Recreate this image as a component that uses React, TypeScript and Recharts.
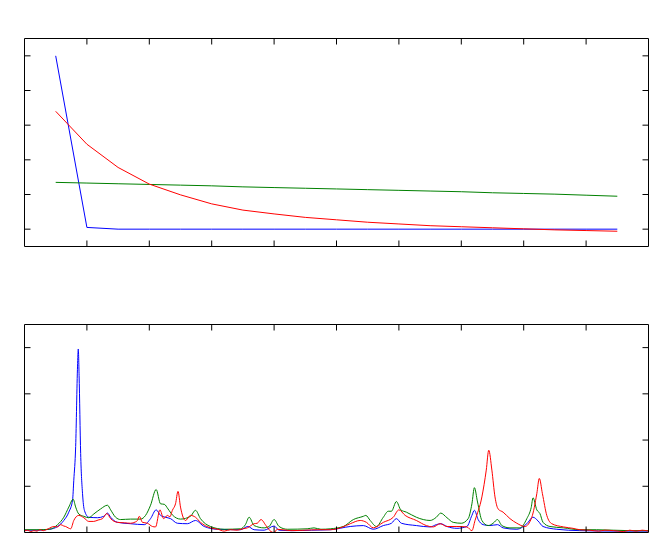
import React from 'react';
import { LineChart, Line, XAxis, YAxis } from 'recharts';

// top panel: sampled every 0.5
const topX = [0.5, 1, 1.5, 2, 2.5, 3, 3.5, 4, 4.5, 5, 5.5, 6, 6.5, 7, 7.5, 8, 8.5, 9, 9.5];
const topBlue = [5.0, 0.05, 0, 0, 0, 0, 0, 0, 0, 0, 0, 0, 0, 0, 0, 0, 0, 0, 0];
const topGreen = [1.35, 1.33, 1.31, 1.29, 1.27, 1.25, 1.22, 1.2, 1.18, 1.16, 1.14, 1.12, 1.1, 1.08, 1.05, 1.03, 1.01, 0.98, 0.95];
const topRed = [3.4, 2.45, 1.78, 1.3, 0.99, 0.73, 0.55, 0.44, 0.34, 0.27, 0.2, 0.15, 0.1, 0.07, 0.04, 0.01, -0.02, -0.04, -0.06];

const xTicks = [1, 2, 3, 4, 5, 6, 7, 8, 9];
const topYTicks = [0, 1, 2, 3, 4, 5];
const bottomYTicks = [1, 2, 3, 4];

// bottom panel: [x, value]
const spectrumBlue: [number, number][] = [
  [0, 0.05], [0.2, 0.05], [0.4, 0.07], [0.53, 0.13], [0.63, 0.26], [0.71, 0.44], [0.77, 0.7],
  [0.79, 1.13], [0.82, 1.86], [0.85, 3.6], [0.862, 3.97], [0.875, 3.4], [0.9, 1.71], [0.93, 0.84],
  [0.96, 0.48], [1.03, 0.33], [1.17, 0.32], [1.27, 0.35], [1.33, 0.42], [1.38, 0.33], [1.49, 0.22],
  [1.7, 0.19], [1.92, 0.17], [2.02, 0.3], [2.11, 0.49], [2.18, 0.37], [2.26, 0.33], [2.34, 0.3],
  [2.45, 0.2], [2.61, 0.19], [2.74, 0.26], [2.88, 0.13], [3.09, 0.07], [3.46, 0.06], [3.58, 0.13],
  [3.68, 0.06], [3.84, 0.05], [4.0, 0.14], [4.08, 0.05], [4.3, 0.04], [4.6, 0.05], [4.9, 0.06],
  [5.22, 0.13], [5.43, 0.15], [5.59, 0.07], [5.75, 0.15], [5.88, 0.2], [5.96, 0.3], [6.04, 0.2],
  [6.28, 0.15], [6.5, 0.12], [6.6, 0.17], [6.67, 0.19], [6.77, 0.13], [6.93, 0.09], [7.09, 0.13],
  [7.17, 0.37], [7.21, 0.48], [7.27, 0.28], [7.35, 0.17], [7.46, 0.15], [7.58, 0.17], [7.67, 0.1],
  [7.89, 0.07], [8.05, 0.19], [8.15, 0.33], [8.23, 0.25], [8.31, 0.13], [8.53, 0.07], [8.9, 0.04],
  [9.5, 0.03], [10, 0.03],
];

const spectrumGreen: [number, number][] = [
  [0, 0.06], [0.2, 0.06], [0.4, 0.07], [0.53, 0.17], [0.63, 0.33], [0.71, 0.55], [0.78, 0.72],
  [0.82, 0.55], [0.87, 0.4], [0.95, 0.35], [1.03, 0.32], [1.11, 0.4], [1.22, 0.51], [1.33, 0.59],
  [1.38, 0.49], [1.46, 0.33], [1.54, 0.28], [1.7, 0.29], [1.86, 0.29], [1.94, 0.37], [2.02, 0.59],
  [2.11, 0.93], [2.18, 0.62], [2.24, 0.61], [2.3, 0.51], [2.37, 0.38], [2.5, 0.29], [2.66, 0.35],
  [2.74, 0.48], [2.82, 0.3], [2.98, 0.13], [3.2, 0.07], [3.46, 0.08], [3.54, 0.17], [3.6, 0.33],
  [3.68, 0.15], [3.84, 0.1], [3.92, 0.13], [4.0, 0.28], [4.08, 0.13], [4.21, 0.07], [4.53, 0.08],
  [4.64, 0.1], [4.75, 0.07], [4.9, 0.08], [5.11, 0.13], [5.27, 0.28], [5.43, 0.35], [5.47, 0.37],
  [5.54, 0.26], [5.64, 0.13], [5.75, 0.33], [5.83, 0.46], [5.88, 0.46], [5.96, 0.67], [6.03, 0.49],
  [6.12, 0.44], [6.28, 0.33], [6.39, 0.28], [6.5, 0.26], [6.6, 0.33], [6.67, 0.42], [6.77, 0.32],
  [6.87, 0.22], [7.0, 0.2], [7.11, 0.3], [7.17, 0.62], [7.21, 0.97], [7.26, 0.66], [7.33, 0.26],
  [7.43, 0.15], [7.51, 0.2], [7.58, 0.28], [7.65, 0.15], [7.78, 0.1], [7.94, 0.1], [8.05, 0.3],
  [8.12, 0.54], [8.15, 0.75], [8.21, 0.49], [8.26, 0.41], [8.31, 0.22], [8.42, 0.13], [8.64, 0.1],
  [8.9, 0.06], [9.17, 0.06], [9.7, 0.04], [10, 0.04],
];

const spectrumRed: [number, number][] = [
  [0, 0.03], [0.05, 0.05], [0.1, 0.02], [0.15, 0.04], [0.2, 0.03], [0.25, 0.06], [0.3, 0.04],
  [0.38, 0.08], [0.47, 0.13], [0.53, 0.12], [0.58, 0.17], [0.63, 0.14], [0.66, 0.13], [0.7, 0.1],
  [0.74, 0.08], [0.79, 0.26], [0.87, 0.37], [0.95, 0.32], [1.03, 0.24], [1.11, 0.24], [1.18, 0.27],
  [1.25, 0.3], [1.32, 0.41], [1.38, 0.3], [1.49, 0.22], [1.6, 0.21], [1.7, 0.2], [1.78, 0.23],
  [1.81, 0.26], [1.84, 0.35], [1.89, 0.22], [1.97, 0.2], [2.05, 0.13], [2.1, 0.12], [2.17, 0.49],
  [2.23, 0.3], [2.29, 0.37], [2.33, 0.34], [2.37, 0.48], [2.42, 0.62], [2.46, 0.89], [2.5, 0.55],
  [2.58, 0.26], [2.66, 0.37], [2.74, 0.33], [2.82, 0.22], [2.98, 0.1], [3.1, 0.07], [3.2, 0.03],
  [3.3, 0.06], [3.41, 0.05], [3.5, 0.08], [3.57, 0.1], [3.68, 0.19], [3.73, 0.2], [3.79, 0.28],
  [3.87, 0.15], [3.95, 0.02], [4.0, 0.0], [4.05, 0.07], [4.27, 0.04], [4.5, 0.05], [4.7, 0.06],
  [4.9, 0.06], [5.1, 0.12], [5.22, 0.19], [5.38, 0.26], [5.48, 0.22], [5.59, 0.1], [5.75, 0.22],
  [5.91, 0.33], [6.0, 0.49], [6.1, 0.37], [6.28, 0.26], [6.44, 0.15], [6.55, 0.12], [6.66, 0.19],
  [6.77, 0.13], [6.93, 0.13], [7.09, 0.12], [7.17, 0.04], [7.22, 0.26], [7.33, 0.77], [7.4, 1.35],
  [7.44, 1.78], [7.49, 1.35], [7.54, 0.77], [7.59, 0.51], [7.67, 0.44], [7.78, 0.3], [7.89, 0.2],
  [8.02, 0.13], [8.13, 0.33], [8.21, 0.84], [8.25, 1.17], [8.3, 0.84], [8.37, 0.37], [8.45, 0.19],
  [8.64, 0.12], [8.79, 0.09], [8.9, 0.06], [9.06, 0.05], [9.2, 0.03], [9.3, 0.05], [9.44, 0.04],
  [9.6, 0.02], [9.7, 0.05], [9.8, 0.03], [9.9, 0.05], [10, 0.03],
];

const topData = topX.map((x, i) => ({ x, blue: topBlue[i], green: topGreen[i], red: topRed[i] }));
const toRows = (pts: [number, number][]) => pts.map(([x, v]) => ({ x, v }));

const blank = () => '';

// box with inward ticks on all four sides (1px-thick axes, negative tick size)
const frame = (domainY: [number, number], yTicks: number[]) => [
  <XAxis key="xb" xAxisId="b" dataKey="x" type="number" domain={[0, 10]} ticks={xTicks} interval={0}
    height={1} tickSize={-6} tickFormatter={blank} stroke="#000" allowDataOverflow />,
  <XAxis key="xt" xAxisId="t" orientation="top" dataKey="x" type="number" domain={[0, 10]} ticks={xTicks} interval={0}
    height={1} tickSize={-6} tickFormatter={blank} stroke="#000" allowDataOverflow />,
  <YAxis key="yl" yAxisId="l" type="number" domain={domainY} ticks={yTicks} interval={0}
    width={1} tickSize={-6} tickFormatter={blank} stroke="#000" allowDataOverflow />,
  <YAxis key="yr" yAxisId="r" orientation="right" type="number" domain={domainY} ticks={yTicks} interval={0}
    width={1} tickSize={-6} tickFormatter={blank} stroke="#000" allowDataOverflow />,
];

const App: React.FC = () => {
  return (
    <div style={{ width: 655 }}>
      <LineChart width={655} height={270} data={topData} margin={{ top: 29.5, right: 13.5, bottom: 30.5, left: 15.5 }}>
        {frame([-0.5, 5.5], topYTicks)}
        <Line xAxisId="b" yAxisId="l" type="linear" dataKey="blue" stroke="#0000ff" strokeWidth={1} dot={false} isAnimationActive={false} />
        <Line xAxisId="b" yAxisId="l" type="linear" dataKey="green" stroke="#008000" strokeWidth={1} dot={false} isAnimationActive={false} />
        <Line xAxisId="b" yAxisId="l" type="linear" dataKey="red" stroke="#ff0000" strokeWidth={1} dot={false} isAnimationActive={false} />
      </LineChart>
      <LineChart width={655} height={265} margin={{ top: 45.5, right: 13.5, bottom: 9.5, left: 15.5 }}>
        {frame([0, 4.5], bottomYTicks)}
        <Line xAxisId="b" yAxisId="l" data={toRows(spectrumBlue)} type="monotone" dataKey="v" stroke="#0000ff" strokeWidth={1} dot={false} isAnimationActive={false} />
        <Line xAxisId="b" yAxisId="l" data={toRows(spectrumGreen)} type="monotone" dataKey="v" stroke="#008000" strokeWidth={1} dot={false} isAnimationActive={false} />
        <Line xAxisId="b" yAxisId="l" data={toRows(spectrumRed)} type="monotone" dataKey="v" stroke="#ff0000" strokeWidth={1} dot={false} isAnimationActive={false} />
      </LineChart>
    </div>
  );
};

export default App;
